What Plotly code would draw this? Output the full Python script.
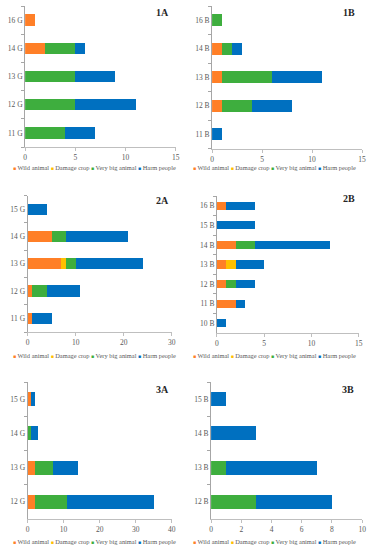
import plotly.graph_objects as go

# ---------------- data ----------------
series_names = ["Wild animal", "Damage crop", "Very big animal", "Harm people"]
series_colors = ["#FF7F27", "#FFC000", "#3EAE3E", "#0070C0"]

cats_1A = ["11 G", "12 G", "13 G", "14 G", "16 G"]
wild_1A = [0, 0, 0, 2, 1]
crop_1A = [0, 0, 0, 0, 0]
vba_1A = [4, 5, 5, 3, 0]
harm_1A = [3, 6, 4, 1, 0]

cats_1B = ["11 B", "12 B", "13 B", "14 B", "16 B"]
wild_1B = [0, 1, 1, 1, 0]
crop_1B = [0, 0, 0, 0, 0]
vba_1B = [0, 3, 5, 1, 1]
harm_1B = [1, 4, 5, 1, 0]

cats_2A = ["11 G", "12 G", "13 G", "14 G", "15 G"]
wild_2A = [1, 1, 7, 5, 0]
crop_2A = [0, 0, 1, 0, 0]
vba_2A = [0, 3, 2, 3, 0]
harm_2A = [4, 7, 14, 13, 4]

cats_2B = ["10 B", "11 B", "12 B", "13 B", "14 B", "15 B", "16 B"]
wild_2B = [0, 2, 1, 1, 2, 0, 1]
crop_2B = [0, 0, 0, 1, 0, 0, 0]
vba_2B = [0, 0, 1, 0, 2, 0, 0]
harm_2B = [1, 1, 2, 3, 8, 4, 3]

cats_3A = ["12 G", "13 G", "14 G", "15 G"]
wild_3A = [2, 2, 0, 1]
crop_3A = [0, 0, 0, 0]
vba_3A = [9, 5, 1, 0]
harm_3A = [24, 7, 2, 1]

cats_3B = ["12 B", "13 B", "14 B", "15 B"]
wild_3B = [0, 0, 0, 0]
crop_3B = [0, 0, 0, 0]
vba_3B = [3, 1, 0, 0]
harm_3B = [5, 6, 3, 1]

panels = [
    ("1A", cats_1A, [wild_1A, crop_1A, vba_1A, harm_1A], 15, 5),
    ("1B", cats_1B, [wild_1B, crop_1B, vba_1B, harm_1B], 15, 5),
    ("2A", cats_2A, [wild_2A, crop_2A, vba_2A, harm_2A], 30, 10),
    ("2B", cats_2B, [wild_2B, crop_2B, vba_2B, harm_2B], 15, 5),
    ("3A", cats_3A, [wild_3A, crop_3A, vba_3A, harm_3A], 40, 10),
    ("3B", cats_3B, [wild_3B, crop_3B, vba_3B, harm_3B], 10, 2),
]

# ---------------- layout (pixels) ----------------
W, H = 374, 550
# x0, x1, ytop, ybottom in pixels
boxes = [
    (23.5, 176.5, 6, 147),
    (213.5, 366, 6, 148.5),
    (26, 172.5, 195.5, 332),
    (218.5, 362.5, 196, 333),
    (26, 172.5, 382, 519),
    (212.5, 366, 382, 519),
]
legend_y = [168, 168, 355.5, 355.5, 541.5, 541.5]
legend_x = [94, 277, 94, 277, 94, 277]
title_pos = [(163, 12), (353, 12), (163, 200), (353, 198), (163, 389), (352, 389)]

FONT = "Liberation Serif"
fig = go.Figure()
layout = dict(
    width=W, height=H, margin=dict(l=0, r=0, t=0, b=0),
    paper_bgcolor="white", plot_bgcolor="white",
    barmode="stack", bargap=0.59, showlegend=False,
    font=dict(family=FONT, size=8, color="#595959"),
)
annotations = []
for i, (title, cats, vals, xmax, dt) in enumerate(panels):
    n = i + 1
    xa = "x" if n == 1 else f"x{n}"
    ya = "y" if n == 1 else f"y{n}"
    for s in range(4):
        fig.add_trace(go.Bar(
            y=cats, x=vals[s], orientation="h", name=series_names[s],
            marker=dict(color=series_colors[s], line=dict(width=0)),
            xaxis=xa, yaxis=ya,
        ))
    x0, x1, yt, yb = boxes[i]
    layout[f"xaxis{'' if n == 1 else n}"] = dict(
        domain=[x0 / W, x1 / W], anchor=ya, range=[0, xmax],
        tickmode="linear", tick0=0, dtick=dt,
        showgrid=False, zeroline=False, showline=True, linecolor="#BFBFBF",
        linewidth=1, ticks="outside", ticklen=3, tickcolor="#BFBFBF",
        ticklabeloverflow="allow",
        tickfont=dict(family=FONT, size=7.5, color="#595959"), fixedrange=True,
    )
    layout[f"yaxis{'' if n == 1 else n}"] = dict(
        domain=[1 - yb / H, 1 - yt / H], anchor=xa, type="category",
        categoryorder="array", categoryarray=cats,
        showgrid=False, zeroline=False, showline=True, linecolor="#A6A6A6",
        linewidth=1, ticks="outside", ticklen=3, tickcolor="#A6A6A6",
        tickson="boundaries",
        tickfont=dict(family=FONT, size=7.5, color="#595959"), fixedrange=True,
    )
    tx, ty = title_pos[i]
    annotations.append(dict(
        text=f"<b>{title}</b>", x=tx / W, y=1 - ty / H, xref="paper", yref="paper",
        showarrow=False, font=dict(family=FONT, size=10, color="#262626"),
        xanchor="center", yanchor="middle",
    ))
    parts = []
    for s in range(4):
        parts.append(f"<span style='color:{series_colors[s]};font-size:5px'>■</span> {series_names[s]}")
    annotations.append(dict(
        text=" ".join(parts), x=legend_x[i] / W, y=1 - legend_y[i] / H,
        xref="paper", yref="paper", showarrow=False, borderpad=0,
        font=dict(family=FONT, size=6.4, color="#595959"),
        xanchor="center", yanchor="middle",
    ))
layout["annotations"] = annotations
fig.update_layout(**layout)
fig.write_html(
    "out.html",
    config={"displayModeBar": False, "staticPlot": True},
    post_script="document.body.style.margin='0';document.body.style.padding='0';",
)
